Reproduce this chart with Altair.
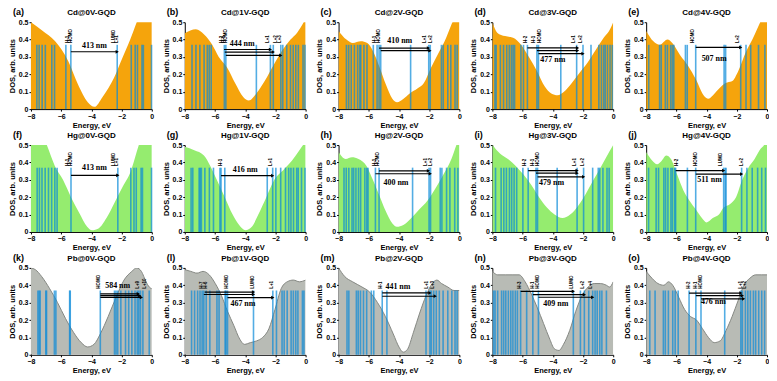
import altair as alt
import pandas as pd

FONT = "Liberation Sans"

# ---------------- row 1 : Cd ----------------
A_DOS = [(-8, 0.5), (-7.26, 0.453), (-6.4, 0.39), (-5.53, 0.275), (-4.9, 0.144), (-4.24, 0.04), (-3.8, 0.013),
         (-3.26, 0.07), (-2.5, 0.18), (-1.97, 0.29), (-1.43, 0.4), (-1.0, 0.5), (-0.5, 0.6), (0, 0.68)]
A_LEVELS = [-7.61, -7.46, -7.26, -7.05, -6.62, -6.44, -5.69, -5.36, -2.29, -1.36, -1.10, -0.95, -0.65, -0.56, -0.02]
A_ARROWS = [(-5.36, -2.29, 0.33)]
A_TAGS = [(-5.58, "H-1"), (-5.32, "HOMO"), (-2.51, "LUMO"), (-2.29, "L+1")]
A_NM = (-3.8, 0.365, "413 nm")

B_DOS = [(-8, 0.437), (-7.26, 0.46), (-6.72, 0.43), (-6.18, 0.37), (-5.75, 0.30), (-5.2, 0.24), (-4.67, 0.15),
         (-4.13, 0.07), (-3.76, 0.05), (-3.26, 0.09), (-2.72, 0.16), (-2.08, 0.26), (-1.53, 0.34), (-1.0, 0.40),
         (-0.56, 0.44), (0, 0.52)]
B_LEVELS = [-7.52, -7.26, -7.0, -6.72, -6.51, -6.38, -6.25, -5.38, -5.28, -3.26, -2.33, -2.14, -1.64, -1.51,
            -1.25, -1.0, -0.82, -0.65, -0.48, -0.17, -0.04]
B_ARROWS = [(-5.4, -2.33, 0.343), (-5.35, -2.14, 0.328), (-5.28, -1.64, 0.309)]
B_TAGS = [(-5.53, "H-2"), (-5.41, "H-1"), (-5.28, "HOMO"), (-2.46, "L+1"), (-1.97, "L+2"), (-1.69, "L+3")]
B_NM = (-4.2, 0.372, "444 nm")

C_DOS = [(-8, 0.45), (-7.48, 0.40), (-7.06, 0.38), (-6.53, 0.39), (-6.1, 0.38), (-5.7, 0.33), (-5.28, 0.24),
         (-4.86, 0.14), (-4.44, 0.06), (-4.13, 0.04), (-3.7, 0.06), (-3.29, 0.09), (-2.76, 0.12), (-2.35, 0.15),
         (-1.93, 0.23), (-1.4, 0.32), (-0.98, 0.39), (-0.56, 0.48), (-0.36, 0.52), (0, 0.6)]
C_LEVELS = [-7.48, -7.33, -7.16, -6.95, -6.74, -6.6, -6.53, -6.32, -6.12, -5.7, -5.45, -5.32, -5.21, -3.23,
            -2.03, -1.93, -1.19, -1.07, -0.77, -0.57, -0.29, -0.15]
C_ARROWS = [(-5.32, -2.05, 0.351), (-5.21, -1.95, 0.336)]
C_TAGS = [(-5.59, "H-1"), (-5.34, "HOMO"), (-2.3, "L+1"), (-1.86, "L+2")]
C_NM = (-3.95, 0.39, "410 nm")

D_DOS = [(-8, 0.5), (-7.68, 0.44), (-7.16, 0.42), (-6.63, 0.41), (-6.1, 0.37), (-5.58, 0.3), (-5.05, 0.22),
         (-4.53, 0.13), (-4.1, 0.09), (-3.68, 0.08), (-3.26, 0.1), (-2.74, 0.15), (-2.21, 0.21), (-1.68, 0.27),
         (-1.16, 0.34), (-0.63, 0.41), (-0.21, 0.46), (0, 0.5)]
D_LEVELS = [-7.83, -7.75, -7.47, -7.26, -7.05, -6.88, -6.74, -6.63, -6.53, -6.11, -5.94, -5.68, -5.05, -4.95,
            -3.47, -2.42, -2.0, -1.47, -0.95, -0.78, -0.63, -0.53, -0.38, -0.21, -0.06]
D_ARROWS = [(-5.68, -2.36, 0.352), (-5.05, -2.36, 0.337), (-4.95, -2.0, 0.319)]
D_TAGS = [(-5.75, "H-2"), (-5.22, "H-1"), (-4.85, "HOMO"), (-2.57, "L+1"), (-2.11, "L+2")]
D_NM = (-4.0, 0.281, "477 nm")

E_DOS = [(-8, 0.45), (-7.52, 0.39), (-7.1, 0.37), (-6.59, 0.40), (-6.27, 0.38), (-5.75, 0.31), (-5.23, 0.25),
         (-4.7, 0.17), (-4.2, 0.08), (-3.88, 0.06), (-3.47, 0.09), (-3.15, 0.12), (-2.74, 0.15), (-2.32, 0.16),
         (-1.9, 0.22), (-1.39, 0.33), (-0.97, 0.40), (-0.66, 0.46), (-0.45, 0.5), (0, 0.6)]
E_LEVELS = [-7.83, -7.11, -7.0, -6.73, -6.59, -6.38, -6.27, -6.17, -5.4, -5.28, -4.72, -2.84, -2.74, -1.74,
            -1.39, -1.08, -0.56, -0.14]
E_ARROWS = [(-4.72, -1.74, 0.355)]
E_TAGS = [(-4.92, "HOMO"), (-1.91, "L+2")]
E_NM = (-3.5, 0.29, "507 nm")

# ---------------- row 2 : Hg ----------------
F_DOS = [(-8, 0.7), (-7.5, 0.62), (-6.95, 0.5), (-6.42, 0.38), (-5.88, 0.3), (-5.35, 0.2), (-4.81, 0.11),
         (-4.28, 0.03), (-3.96, 0.01), (-3.53, 0.02), (-3.0, 0.08), (-2.46, 0.17), (-1.93, 0.26), (-1.39, 0.35),
         (-0.86, 0.5), (-0.4, 0.62), (0, 0.7)]
F_LEVELS = [-7.59, -7.44, -7.27, -7.06, -6.84, -6.63, -6.42, -6.27, -5.35, -2.25, -1.39, -1.18, -1.03, -0.71,
            -0.62, -0.02]
F_ARROWS = [(-5.35, -2.25, 0.326)]
F_TAGS = [(-5.56, "H-1"), (-5.35, "HOMO"), (-2.52, "LUMO"), (-2.29, "L+1")]
F_NM = (-3.8, 0.368, "413 nm")

G_DOS = [(-8, 0.49), (-7.37, 0.47), (-6.73, 0.44), (-6.31, 0.38), (-5.88, 0.3), (-5.35, 0.2), (-4.83, 0.1),
         (-4.4, 0.04), (-3.98, 0.01), (-3.56, 0.03), (-3.13, 0.1), (-2.6, 0.2), (-2.07, 0.3), (-1.44, 0.36),
         (-0.91, 0.41), (-0.49, 0.46), (-0.17, 0.5), (0, 0.52)]
G_LEVELS = [-7.58, -7.47, -7.05, -6.98, -6.9, -6.67, -6.37, -6.1, -5.67, -5.6, -5.35, -2.54, -2.18, -1.97,
            -1.65, -1.33, -1.12, -0.97, -0.8, -0.59, -0.49, -0.27, -0.04]
G_ARROWS = [(-5.6, -2.18, 0.324)]
G_TAGS = [(-5.57, "H-1"), (-2.29, "L+1")]
G_NM = (-4.0, 0.358, "416 nm")

H_DOS = [(-8, 0.46), (-7.53, 0.42), (-7.11, 0.43), (-6.68, 0.42), (-6.15, 0.38), (-5.73, 0.3), (-5.3, 0.21),
         (-4.88, 0.12), (-4.45, 0.05), (-4.14, 0.03), (-3.71, 0.04), (-3.18, 0.08), (-2.65, 0.13), (-2.12, 0.18),
         (-1.59, 0.25), (-1.06, 0.33), (-0.53, 0.42), (-0.2, 0.5), (0, 0.55)]
H_LEVELS = [-7.64, -7.49, -7.32, -7.11, -7.0, -6.85, -6.68, -6.54, -6.26, -6.13, -6.05, -5.56, -5.32, -3.1,
            -2.01, -1.91, -1.27, -1.16, -0.85, -0.63, -0.31, -0.1]
H_ARROWS = [(-5.32, -2.05, 0.352), (-5.56, -1.93, 0.335)]
H_TAGS = [(-5.62, "H-1"), (-5.41, "HOMO"), (-2.23, "L+1"), (-1.91, "L+2")]
H_NM = (-4.2, 0.283, "400 nm")

I_DOS = [(-8, 0.5), (-7.48, 0.45), (-6.97, 0.42), (-6.45, 0.38), (-5.94, 0.33), (-5.42, 0.27), (-4.91, 0.2),
         (-4.39, 0.14), (-3.88, 0.1), (-3.36, 0.08), (-2.85, 0.1), (-2.33, 0.15), (-1.81, 0.22), (-1.3, 0.3),
         (-0.78, 0.38), (-0.27, 0.46), (0, 0.5)]
I_LEVELS = [-7.79, -7.42, -7.24, -7.07, -6.87, -6.72, -6.56, -6.39, -5.98, -5.63, -5.11, -5.01, -3.71, -2.39,
            -1.96, -1.36, -0.99, -0.89, -0.68, -0.41, -0.27]
I_ARROWS = [(-5.63, -2.39, 0.353), (-5.11, -2.39, 0.338), (-5.01, -1.96, 0.317)]
I_TAGS = [(-5.84, "H-2"), (-5.32, "H-1"), (-4.97, "HOMO"), (-2.54, "L+1"), (-2.02, "L+2")]
I_NM = (-4.08, 0.284, "479 nm")

J_DOS = [(-8, 0.46), (-7.59, 0.41), (-7.28, 0.39), (-6.97, 0.41), (-6.67, 0.44), (-6.36, 0.42), (-5.95, 0.33),
         (-5.54, 0.24), (-5.13, 0.18), (-4.72, 0.13), (-4.31, 0.08), (-4.0, 0.055), (-3.59, 0.08), (-3.18, 0.1),
         (-2.87, 0.14), (-2.46, 0.16), (-2.05, 0.2), (-1.64, 0.3), (-1.23, 0.37), (-0.82, 0.42), (-0.41, 0.48),
         (-0.2, 0.5), (0, 0.56)]
J_LEVELS = [-7.84, -7.34, -7.18, -6.83, -6.71, -6.56, -6.36, -6.26, -6.11, -6.05, -5.27, -4.72, -2.87, -2.77,
            -2.71, -1.68, -1.33, -0.98, -0.62, -0.35, -0.1]
J_ARROWS = [(-6.05, -2.87, 0.353), (-4.72, -1.68, 0.333)]
J_TAGS = [(-5.95, "H-2"), (-4.72, "HOMO"), (-3.04, "LUMO"), (-1.64, "L+2")]
J_NM = (-3.8, 0.299, "511 nm")

# ---------------- row 3 : Pb ----------------
K_DOS = [(-8, 0.5), (-7.71, 0.49), (-7.29, 0.45), (-6.76, 0.38), (-6.24, 0.3), (-5.72, 0.21), (-5.19, 0.13),
         (-4.67, 0.07), (-4.25, 0.045), (-3.83, 0.06), (-3.41, 0.12), (-2.89, 0.22), (-2.37, 0.33), (-1.84, 0.43),
         (-1.32, 0.48), (-1.0, 0.5), (-0.69, 0.48), (-0.38, 0.42), (-0.17, 0.39), (0, 0.38)]
K_LEVELS = [-7.54, -7.46, -7.39, -7.02, -6.97, -6.45, -6.35, -5.44, -5.4, -3.41, -2.47, -2.37, -2.26, -2.05,
            -1.74, -1.53, -1.32, -1.11, -0.96, -0.86, -0.75, -0.59, -0.17]
K_ARROWS = [(-3.41, -0.9, 0.351), (-3.41, -0.8, 0.34), (-3.41, -0.69, 0.33)]
K_TAGS = [(-3.52, "HOMO"), (-0.9, "L+9"), (-0.48, "L+10")]
K_NM = (-2.26, 0.397, "584 nm")

L_DOS = [(-8, 0.49), (-7.6, 0.48), (-7.19, 0.47), (-6.79, 0.48), (-6.38, 0.46), (-5.98, 0.41), (-5.57, 0.34),
         (-5.17, 0.25), (-4.76, 0.17), (-4.36, 0.09), (-4.05, 0.06), (-3.65, 0.07), (-3.24, 0.08), (-2.84, 0.1),
         (-2.43, 0.15), (-2.03, 0.26), (-1.62, 0.38), (-1.22, 0.42), (-0.81, 0.43), (-0.41, 0.42), (0, 0.43)]
L_LEVELS = [-7.55, -7.35, -7.15, -6.99, -6.85, -6.74, -6.58, -6.34, -5.87, -5.73, -5.33, -5.27, -5.17, -3.45,
            -2.17, -1.93, -1.56, -1.42, -1.22, -0.96, -0.81, -0.65, -0.51, -0.21, -0.11]
L_ARROWS = [(-6.68, -3.45, 0.361), (-6.74, -3.45, 0.347), (-5.17, -2.17, 0.329)]
L_TAGS = [(-6.83, "H-7"), (-6.62, "H-6"), (-5.21, "HOMO"), (-3.45, "LUMO"), (-2.23, "L+1")]
L_NM = (-4.15, 0.292, "467 nm")

M_DOS = [(-8, 0.5), (-7.59, 0.45), (-7.07, 0.42), (-6.45, 0.39), (-5.93, 0.36), (-5.42, 0.3), (-4.9, 0.22),
         (-4.38, 0.12), (-3.97, 0.04), (-3.72, 0.015), (-3.45, 0.03), (-3.04, 0.13), (-2.63, 0.24), (-2.21, 0.34),
         (-1.8, 0.41), (-1.49, 0.43), (-1.18, 0.41), (-0.77, 0.39), (-0.36, 0.37), (0, 0.37)]
M_LEVELS = [-7.44, -7.32, -6.82, -6.7, -6.55, -6.35, -6.14, -5.83, -5.67, -5.11, -4.8, -2.21, -1.95, -1.86,
            -1.7, -1.53, -1.33, -1.08, -0.77, -0.5, -0.29, -0.15]
M_ARROWS = [(-5.11, -1.95, 0.356), (-5.11, -1.6, 0.337)]
M_TAGS = [(-5.21, "H-1"), (-2.15, "L+1"), (-1.78, "L+3")]
M_NM = (-4.07, 0.389, "441 nm")

N_DOS = [(-8, 0.48), (-7.65, 0.46), (-7.15, 0.46), (-6.64, 0.46), (-6.23, 0.46), (-5.83, 0.42), (-5.42, 0.35),
         (-5.02, 0.27), (-4.61, 0.18), (-4.2, 0.09), (-3.9, 0.035), (-3.59, 0.025), (-3.29, 0.06), (-2.88, 0.14),
         (-2.48, 0.25), (-2.07, 0.34), (-1.66, 0.39), (-1.26, 0.41), (-0.85, 0.41), (-0.45, 0.4), (-0.24, 0.39),
         (0, 0.42)]
N_LEVELS = [-7.92, -7.82, -7.65, -7.39, -7.25, -7.11, -6.94, -6.78, -6.64, -6.48, -6.34, -6.13, -5.73, -5.32,
            -4.95, -2.64, -2.17, -1.91, -1.62, -1.36, -1.2, -1.06, -0.89, -0.75, -0.45]
N_ARROWS = [(-6.13, -2.64, 0.365), (-5.32, -1.91, 0.346), (-4.95, -1.36, 0.331)]
N_TAGS = [(-6.17, "H-3"), (-5.32, "H-1"), (-4.95, "HOMO"), (-2.72, "LUMO"), (-2.03, "L+2"), (-1.46, "L+4")]
N_NM = (-3.8, 0.29, "409 nm")

O_DOS = [(-8, 0.48), (-7.61, 0.44), (-7.22, 0.41), (-6.82, 0.4), (-6.53, 0.42), (-6.24, 0.4), (-5.84, 0.33),
         (-5.45, 0.26), (-5.06, 0.22), (-4.67, 0.2), (-4.27, 0.15), (-3.88, 0.1), (-3.49, 0.07), (-3.1, 0.08),
         (-2.71, 0.14), (-2.31, 0.22), (-1.92, 0.31), (-1.53, 0.4), (-1.14, 0.44), (-0.75, 0.46), (-0.35, 0.46),
         (0, 0.46)]
O_LEVELS = [-7.76, -7.41, -6.86, -6.73, -6.53, -6.24, -6.08, -5.88, -5.16, -4.71, -4.37, -2.8, -1.73, -1.63,
            -1.43, -1.27, -1.1, -0.9, -0.75, -0.55, -0.35, -0.16]
O_ARROWS = [(-5.16, -1.73, 0.355), (-4.71, -1.63, 0.34), (-4.37, -1.55, 0.322)]
O_TAGS = [(-5.16, "H-2"), (-4.71, "H-1"), (-4.37, "HOMO"), (-1.69, "L+1"), (-1.43, "L+2")]
O_NM = (-3.55, 0.305, "476 nm")

PANELS = [
    [("(a)", "Cd@0V-GQD", A_DOS, A_LEVELS, A_ARROWS, A_TAGS, A_NM),
     ("(b)", "Cd@1V-GQD", B_DOS, B_LEVELS, B_ARROWS, B_TAGS, B_NM),
     ("(c)", "Cd@2V-GQD", C_DOS, C_LEVELS, C_ARROWS, C_TAGS, C_NM),
     ("(d)", "Cd@3V-GQD", D_DOS, D_LEVELS, D_ARROWS, D_TAGS, D_NM),
     ("(e)", "Cd@4V-GQD", E_DOS, E_LEVELS, E_ARROWS, E_TAGS, E_NM)],
    [("(f)", "Hg@0V-GQD", F_DOS, F_LEVELS, F_ARROWS, F_TAGS, F_NM),
     ("(g)", "Hg@1V-GQD", G_DOS, G_LEVELS, G_ARROWS, G_TAGS, G_NM),
     ("(h)", "Hg@2V-GQD", H_DOS, H_LEVELS, H_ARROWS, H_TAGS, H_NM),
     ("(i)", "Hg@3V-GQD", I_DOS, I_LEVELS, I_ARROWS, I_TAGS, I_NM),
     ("(j)", "Hg@4V-GQD", J_DOS, J_LEVELS, J_ARROWS, J_TAGS, J_NM)],
    [("(k)", "Pb@0V-GQD", K_DOS, K_LEVELS, K_ARROWS, K_TAGS, K_NM),
     ("(l)", "Pb@1V-GQD", L_DOS, L_LEVELS, L_ARROWS, L_TAGS, L_NM),
     ("(m)", "Pb@2V-GQD", M_DOS, M_LEVELS, M_ARROWS, M_TAGS, M_NM),
     ("(n)", "Pb@3V-GQD", N_DOS, N_LEVELS, N_ARROWS, N_TAGS, N_NM),
     ("(o)", "Pb@4V-GQD", O_DOS, O_LEVELS, O_ARROWS, O_TAGS, O_NM)],
]
ROW_FILL = ["#F5A40C", "#95EC6F", "#B8BBB5"]

W, H = 121, 87


def make_panel(letter, title, dos, levels, arrows, tags, nm, fill, outline):
    xs = alt.Scale(domain=[-8, 0], nice=False, zero=False)
    ys = alt.Scale(domain=[0, 0.5], nice=False)
    xax = alt.Axis(values=[-8, -6, -4, -2, 0], title="Energy, eV", format="d")
    yax = alt.Axis(values=[0, 0.1, 0.2, 0.3, 0.4, 0.5], title="DOS, arb. units", format=".1~f")

    def X(f):
        return alt.X(f, type="quantitative", scale=xs, axis=xax)

    def Y(f):
        return alt.Y(f, type="quantitative", scale=ys, axis=yax)

    dos_df = pd.DataFrame(dos, columns=["e", "dos"])
    lev_df = pd.DataFrame({"e": levels})
    arr_df = pd.DataFrame(arrows, columns=["e", "e2", "y"])
    tag_df = pd.DataFrame(tags, columns=["e", "tag"])
    nm_df = pd.DataFrame([nm], columns=["e", "y", "label"])
    head_df = pd.DataFrame({"letter": [letter], "title": [title]})

    layers = []
    layers.append(alt.Chart(dos_df).mark_area(color=fill, interpolate="monotone", clip=True, opacity=1)
                  .encode(x=X("e"), y=Y("dos")))
    if outline:
        layers.append(alt.Chart(dos_df).mark_line(color="#858883", interpolate="monotone", clip=True,
                                                   strokeWidth=1)
                      .encode(x=X("e"), y=Y("dos")))
    layers.append(alt.Chart(lev_df).mark_rule(color="#0A8AD8", opacity=0.7, strokeWidth=1.6)
                  .encode(x=X("e"), y=alt.Y(datum=0, type="quantitative", scale=ys, axis=yax),
                          y2=alt.Y2(datum=0.37)))
    layers.append(alt.Chart(arr_df).mark_rule(color="black", strokeWidth=1.2)
                  .encode(x=X("e"), x2=alt.X2("e2"), y=Y("y")))
    layers.append(alt.Chart(arr_df).mark_point(shape="triangle-right", filled=True, color="black",
                                               size=14, opacity=1)
                  .encode(x=X("e2"), y=Y("y")))
    layers.append(alt.Chart(tag_df).mark_text(angle=270, align="left", baseline="middle", fontSize=4.5,
                                              font=FONT, fontWeight="bold", color="black")
                  .encode(x=X("e"), y=alt.Y(datum=0.38, type="quantitative", scale=ys, axis=yax),
                          text="tag:N"))
    layers.append(alt.Chart(nm_df).mark_text(font="Liberation Serif", fontWeight="bold", fontSize=8,
                                             color="black", baseline="middle")
                  .encode(x=X("e"), y=Y("y"), text="label:N"))
    layers.append(alt.Chart(head_df).mark_text(align="left", baseline="bottom", fontSize=9, font=FONT,
                                               fontWeight="bold", color="black")
                  .encode(x=alt.value(-18), y=alt.value(-5), text="letter:N"))
    layers.append(alt.Chart(head_df).mark_text(align="center", baseline="bottom", fontSize=8, font=FONT,
                                               fontWeight="bold", color="black")
                  .encode(x=alt.value(W / 2), y=alt.value(-5), text="title:N"))

    return alt.layer(*layers).properties(width=W, height=H)


rows = []
for r, row in enumerate(PANELS):
    charts = [make_panel(*p, ROW_FILL[r], r == 2) for p in row]
    rows.append(alt.hconcat(*charts, spacing=8))

chart = alt.vconcat(*rows, spacing=2).properties(padding=0).configure_view(stroke=None).configure_axis(
    grid=False, labelFont=FONT, labelFontSize=7, labelFontWeight="bold", labelColor="black",
    titleFont=FONT, titleFontSize=7.5, titleFontWeight="bold", titleColor="black",
    tickSize=2, labelPadding=1, titlePadding=2, domainColor="black", tickColor="black",
    domainWidth=1, labelFlush=False)

chart.save("out.html", embed_options={"renderer": "svg", "actions": False})
